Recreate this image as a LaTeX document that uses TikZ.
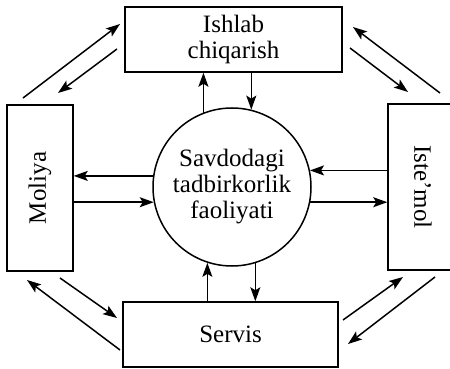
\documentclass[tikz,border=0pt]{standalone}
\usepackage{fontspec}
\setmainfont{Liberation Serif}
\usetikzlibrary{arrows.meta}

\tikzset{
  blok/.style={draw, line width=1.5pt, inner sep=0pt, align=center,
    font=\fontsize{25}{26}\selectfont},
  strelka/.style={-{Stealth[length=14pt,width=10pt,inset=3pt]}, line width=1.5pt},
}

\begin{document}
\begin{tikzpicture}[x=1pt, y=-1pt]
\useasboundingbox (0,0) rectangle (450,369);
\node[blok, minimum width=217pt, minimum height=65pt] (ishlab) at (233.5,39.5) {Ishlab\\chiqarish};
\node[blok, minimum width=215pt, minimum height=65pt] (servis) at (230.5,334.5) {Servis};
\node[blok, minimum width=66pt, minimum height=166pt] (moliya) at (40,188) {\rotatebox{90}{Moliya}};
\node[blok, minimum width=70pt, minimum height=166pt] (istemol) at (423,187) {\rotatebox{-90}{Iste’mol}};
\node[blok, circle, minimum size=158pt] (savdo) at (232,187) {Savdodagi\\tadbirkorlik\\faoliyati};

% markaz bilan bog'lanish
\draw[strelka] (savdo.111.5) -- (savdo.111.5 |- ishlab.south);
\draw[strelka] (ishlab.south -| savdo.76.8) -- (savdo.76.8);
\draw[strelka] (servis.north -| savdo.252.3) -- (savdo.252.3);
\draw[strelka] (savdo.287) -- (savdo.287 |- servis.north);
\draw[strelka] (savdo.172.7) -- (savdo.172.7 -| moliya.east);
\draw[strelka] (moliya.east |- savdo.191) -- (savdo.191);
\draw[strelka] (istemol.west |- savdo.12.4) -- (savdo.12.4);
\draw[strelka] (savdo.349) -- (savdo.349 -| istemol.west);

% burchakdagi strelkalar
\coordinate (m1) at (23,98);   \coordinate (i1) at (120,24);
\coordinate (i2) at (117,49);  \coordinate (m2) at (58,93);
\coordinate (t1) at (440,93);  \coordinate (i3) at (353,27);
\coordinate (i4) at (350,48);  \coordinate (t2) at (408,92);
\coordinate (s1) at (120,350); \coordinate (m3) at (27,280);
\coordinate (m4) at (60,278);  \coordinate (s2) at (117,318);
\coordinate (s3) at (343,320); \coordinate (t3) at (403,277);
\coordinate (t4) at (435,277); \coordinate (s4) at (348,344);
\draw[strelka] (m1) -- (i1);
\draw[strelka] (i2) -- (m2);
\draw[strelka] (t1) -- (i3);
\draw[strelka] (i4) -- (t2);
\draw[strelka] (s1) -- (m3);
\draw[strelka] (m4) -- (s2);
\draw[strelka] (s3) -- (t3);
\draw[strelka] (t4) -- (s4);
\end{tikzpicture}
\end{document}
